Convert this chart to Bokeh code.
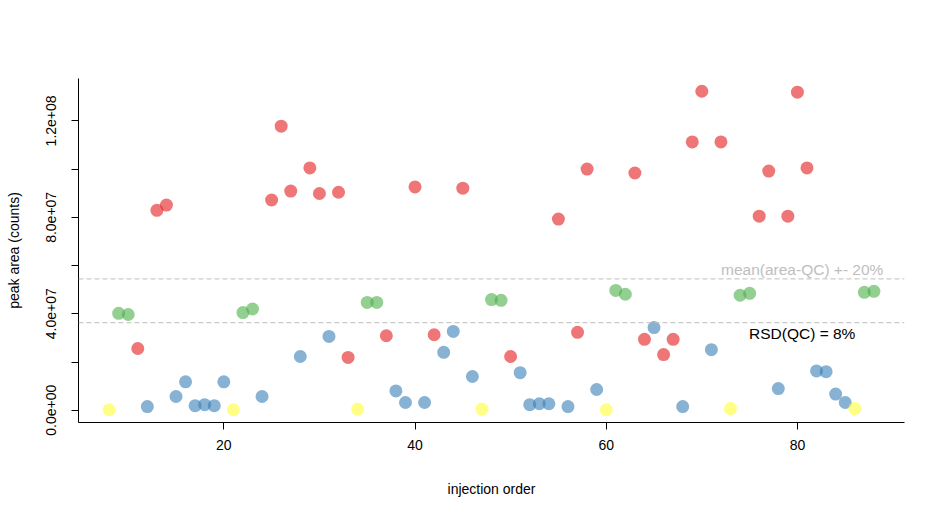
from bokeh.plotting import figure
from bokeh.models import FixedTicker, Span, Label, ColumnDataSource, Range1d
from bokeh.embed import file_html
from bokeh.resources import INLINE

injection_order = [8, 9, 10, 11, 12, 13, 14, 15, 16, 17, 18, 19, 20, 21, 22, 23, 24, 25, 26, 27,
                   28, 29, 30, 31, 32, 33, 34, 35, 36, 37, 38, 39, 40, 41, 42, 43, 44, 45, 46, 47,
                   48, 49, 50, 51, 52, 53, 54, 55, 56, 57, 58, 59, 60, 61, 62, 63, 64, 65, 66, 67,
                   68, 69, 70, 71, 72, 73, 74, 75, 76, 77, 78, 79, 80, 81, 82, 83, 84, 85, 86, 87, 88]
sample_type = ["Y", "G", "G", "R", "B", "R", "R", "B", "B", "B", "B", "B", "B", "Y", "G", "G", "B", "R", "R", "R",
               "B", "R", "R", "B", "R", "R", "Y", "G", "G", "R", "B", "B", "R", "B", "R", "B", "B", "R", "B", "Y",
               "G", "G", "R", "B", "B", "B", "B", "R", "B", "R", "R", "B", "Y", "G", "G", "R", "R", "B", "R", "R",
               "B", "R", "R", "B", "R", "Y", "G", "G", "R", "R", "B", "R", "R", "R", "B", "B", "B", "B", "Y", "G", "G"]
peak_area_e7 = [0.02, 4.02, 3.97, 2.56, 0.15, 8.29, 8.51, 0.57, 1.18, 0.19, 0.23, 0.19, 1.18, 0.02, 4.05, 4.20, 0.57, 8.72, 11.78, 9.09,
                2.23, 10.05, 8.99, 3.06, 9.04, 2.19, 0.05, 4.47, 4.47, 3.09, 0.80, 0.32, 9.26, 0.32, 3.13, 2.40, 3.27, 9.21, 1.40, 0.05,
                4.59, 4.56, 2.23, 1.56, 0.23, 0.27, 0.27, 7.93, 0.15, 3.23, 10.00, 0.86, 0.02, 4.97, 4.81, 9.84, 2.94, 3.43, 2.31, 2.94,
                0.15, 11.13, 13.23, 2.51, 11.13, 0.07, 4.77, 4.85, 8.05, 9.92, 0.90, 8.05, 13.19, 10.05, 1.63, 1.60, 0.67, 0.32, 0.07, 4.89, 4.93]
peak_area = [v * 1e7 for v in peak_area_e7]

group_colors = {"R": "#E41A1C", "B": "#377EB8", "G": "#4DAF4A", "Y": "#FFFF33"}
x_ticks = [20, 40, 60, 80]
y_ticks = [0, 2e7, 4e7, 6e7, 8e7, 1e8, 1.2e8]
y_tick_labels = ["0.0e+00", "", "4.0e+07", "", "8.0e+07", "", "1.2e+08"]
mean_label = "mean(area-QC) +- 20%"
rsd_label = "RSD(QC) = 8%"

qc = [a for a, g in zip(peak_area, sample_type) if g == "G"]
qc_mean = sum(qc) / len(qc)
upper = qc_mean * 1.2
lower = qc_mean * 0.8

xmin, xmax = min(injection_order), max(injection_order)
ymin, ymax = min(peak_area), max(peak_area)
xpad = 0.04 * (xmax - xmin)
ypad = 0.04 * (ymax - ymin)

FONT = "Liberation Sans"

p = figure(frame_width=826, frame_height=344,
           x_range=Range1d(xmin - xpad, xmax + xpad),
           y_range=Range1d(ymin - ypad, ymax + ypad),
           output_backend="svg", toolbar_location=None,
           min_border_left=78, min_border_top=78, min_border_right=33, min_border_bottom=82)
p.outline_line_color = None
p.xgrid.visible = False
p.ygrid.visible = False
p.background_fill_color = "white"
p.border_fill_color = "white"

src = ColumnDataSource(dict(x=injection_order, y=peak_area,
                            c=[group_colors[g] for g in sample_type]))
p.scatter("x", "y", source=src, size=13, fill_color="c", fill_alpha=0.6, line_color=None)

for v in (upper, lower):
    p.add_layout(Span(location=v, dimension="width", line_color="#BEBEBE",
                      line_dash="5 3", line_width=1))

p.add_layout(Label(x=80.5, y=upper, text=mean_label, text_align="center", text_baseline="bottom",
                   y_offset=1, text_font=FONT, text_font_size="15.5px", text_color="#BEBEBE"))
p.add_layout(Label(x=80.5, y=lower, text=rsd_label, text_align="center", text_baseline="top",
                   y_offset=-2, text_font=FONT, text_font_size="15.5px", text_color="black"))

for ax in (p.xaxis[0], p.yaxis[0]):
    ax.axis_line_color = "black"
    ax.major_tick_line_color = "black"
    ax.minor_tick_line_color = None
    ax.major_tick_in = 0
    ax.major_tick_out = 7
    ax.major_label_text_font = FONT
    ax.major_label_text_font_size = "14px"
    ax.major_label_text_color = "black"
    ax.axis_label_text_font = FONT
    ax.axis_label_text_font_size = "14px"
    ax.axis_label_text_font_style = "normal"
    ax.axis_label_text_color = "black"

p.xaxis.ticker = FixedTicker(ticks=x_ticks)
p.xaxis.axis_label = "injection order"
p.xaxis.major_label_standoff = 10
p.xaxis.axis_label_standoff = 28

p.yaxis.ticker = FixedTicker(ticks=y_ticks)
p.yaxis.major_label_overrides = {t: l for t, l in zip(y_ticks, y_tick_labels)}
p.yaxis.major_label_orientation = "vertical"
p.yaxis.axis_label = "peak area (counts)"
p.yaxis.major_label_standoff = 15
p.yaxis.axis_label_standoff = 22

open("out.html", "w").write(file_html(p, INLINE))
